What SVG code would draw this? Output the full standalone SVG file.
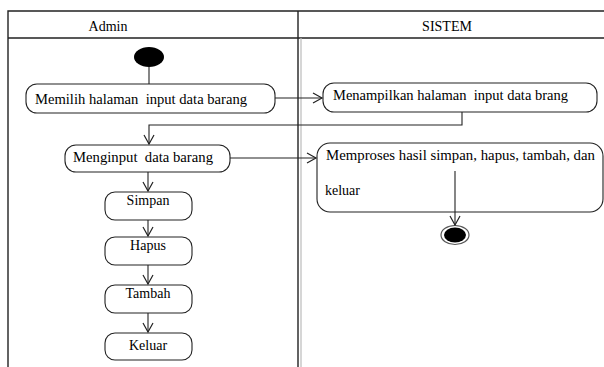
<svg xmlns="http://www.w3.org/2000/svg" width="604" height="367" viewBox="0 0 604 367">
<style>
.lane{stroke:#222;stroke-width:1.4;fill:none}
.node{fill:#fff;stroke:#222;stroke-width:1.1}
.t{font-family:'Liberation Serif','DejaVu Serif',serif;font-size:14px;fill:#000}
.c{stroke:#222;stroke-width:1.1;fill:none}
</style>
<defs>
<marker id="arr" markerWidth="12" markerHeight="12" refX="10" refY="6" orient="auto" markerUnits="userSpaceOnUse">
<path d="M1,1 L10,6 L1,11" fill="none" stroke="#222" stroke-width="1.2"/>
</marker>
</defs>
<rect width="604" height="367" fill="#fff"/>
<g id="lanes">
<path class="lane" d="M8,367 V11 H604 M8,38 H604 M298,11 V367"/>
<line x1="301" y1="38" x2="301" y2="367" stroke="#bbb" stroke-width="1.2"/>
<text class="t" x="108" y="31" text-anchor="middle">Admin</text>
<text class="t" x="447" y="31" text-anchor="middle">SISTEM</text>
</g>
<g id="start"><ellipse cx="149" cy="57" rx="15" ry="10" fill="#000"/></g>
<g id="memilih"><rect class="node" x="26" y="84" width="249" height="29" rx="11"/><text class="t" x="35" y="104" textLength="212" lengthAdjust="spacingAndGlyphs">Memilih halaman&#160; input data barang</text></g>
<g id="menampilkan"><rect class="node" x="323" y="83" width="274" height="29" rx="11"/><text class="t" x="333" y="100" textLength="235" lengthAdjust="spacingAndGlyphs">Menampilkan halaman&#160; input data brang</text></g>
<g id="menginput"><rect class="node" x="65" y="145" width="165" height="27" rx="11"/><text class="t" x="73" y="162" textLength="140" lengthAdjust="spacingAndGlyphs">Menginput&#160; data barang</text></g>
<g id="memproses"><rect class="node" x="317" y="143" width="286" height="69" rx="13"/><text class="t" x="326" y="160" textLength="269" lengthAdjust="spacingAndGlyphs">Memproses hasil simpan, hapus, tambah, dan</text><text class="t" x="325" y="195">keluar</text></g>
<g id="simpan"><rect class="node" x="105" y="192" width="87" height="28" rx="10"/><text class="t" x="148" y="205" text-anchor="middle">Simpan</text></g>
<g id="hapus"><rect class="node" x="105" y="237" width="87" height="28" rx="10"/><text class="t" x="148" y="250" text-anchor="middle">Hapus</text></g>
<g id="tambah"><rect class="node" x="105" y="285" width="87" height="28" rx="10"/><text class="t" x="148" y="298" text-anchor="middle">Tambah</text></g>
<g id="keluar"><rect class="node" x="105" y="333" width="87" height="27" rx="10"/><text class="t" x="148" y="350" text-anchor="middle">Keluar</text></g>
<g id="end"><ellipse cx="455" cy="235" rx="14" ry="9.5" fill="#fff" stroke="#555" stroke-width="1.2"/><ellipse cx="455" cy="235" rx="11" ry="7.5" fill="#000"/></g>
<g id="connectors">
<line class="c" x1="149" y1="67" x2="149" y2="84"/>
<line class="c" x1="275" y1="98" x2="322" y2="98" marker-end="url(#arr)"/>
<path class="c" d="M462,112 V125 H149 V144" marker-end="url(#arr)"/>
<line class="c" x1="230" y1="158" x2="316" y2="158" marker-end="url(#arr)"/>
<line class="c" x1="148" y1="172" x2="148" y2="191" marker-end="url(#arr)"/>
<line class="c" x1="148" y1="220" x2="148" y2="236" marker-end="url(#arr)"/>
<line class="c" x1="148" y1="265" x2="148" y2="284" marker-end="url(#arr)"/>
<line class="c" x1="148" y1="313" x2="148" y2="332" marker-end="url(#arr)"/>
<line class="c" x1="455" y1="171" x2="455" y2="225" marker-end="url(#arr)"/>
</g>
</svg>
